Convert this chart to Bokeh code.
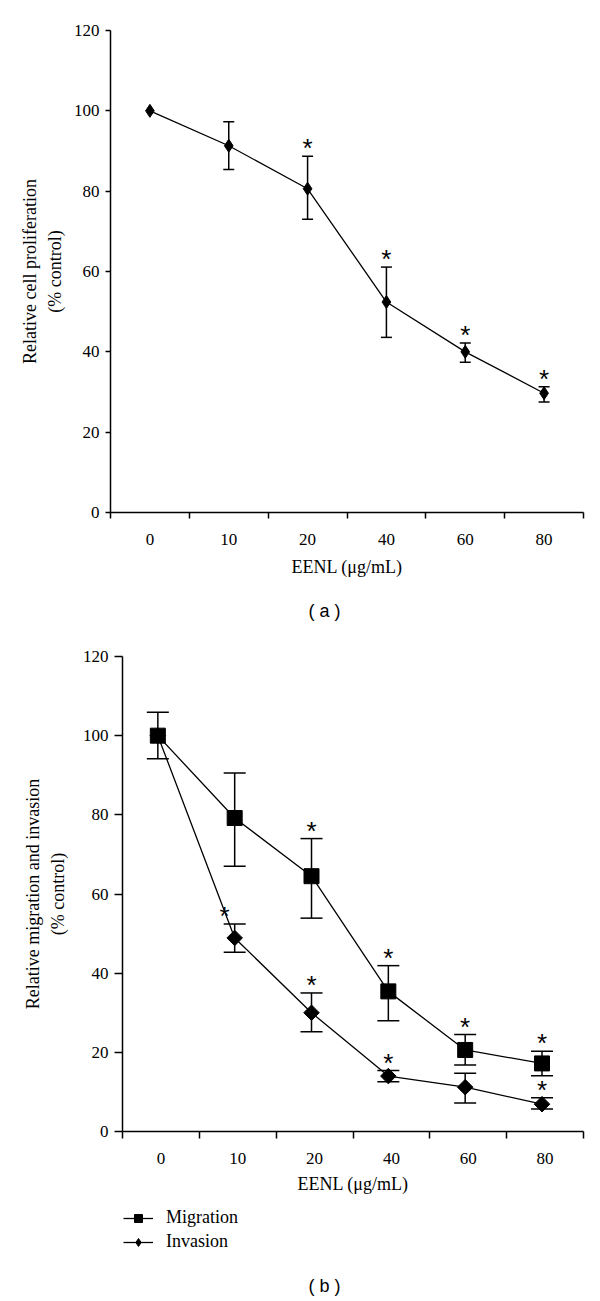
import math
from bokeh.plotting import figure
from bokeh.models import (ColumnDataSource, Range1d, LinearAxis, FixedTicker,
                          Whisker, TeeHead, Legend, LegendItem)
from bokeh.layouts import column
from bokeh.core.properties import value
from bokeh.embed import file_html
from bokeh.resources import INLINE

# ---------------- data ----------------
doses = ["0", "10", "20", "40", "60", "80"]
y_ticks = [0, 20, 40, 60, 80, 100, 120]

prolif_mean = [100, 91.3, 80.6, 52.4, 40.0, 29.7]
prolif_upper = [100, 97.3, 88.7, 61.1, 42.2, 31.3]
prolif_lower = [100, 85.4, 73.0, 43.6, 37.4, 27.5]
prolif_sig = [False, False, True, True, True, True]

migr_mean = [100, 79.2, 64.5, 35.4, 20.6, 17.2]
migr_upper = [105.9, 90.6, 74.0, 41.9, 24.5, 20.3]
migr_lower = [94.2, 67.0, 53.9, 28.0, 16.8, 14.1]
migr_sig = [False, False, True, True, True, True]

inv_mean = [100, 48.9, 30.0, 14.0, 11.2, 6.9]
inv_upper = [100, 52.4, 35.0, 15.4, 14.7, 8.5]
inv_lower = [100, 45.3, 25.2, 12.6, 7.2, 5.7]
inv_sig = [False, True, True, True, False, True]

series_names = ["Migration", "Invasion"]
panel_tags = ["( a )", "( b )"]

SERIF = "Liberation Serif"
n = len(doses)
centers = [i + 0.5 for i in range(n)]
bounds = list(range(n + 1))
W = 600


def base_fig(height, left, top, bottom, ylabel, ytick_out, ylabel_standoff,
             xlabel_std, xlabel_axis_std, xtick_out):
    p = figure(width=W, height=height, x_range=Range1d(0, n),
               y_range=Range1d(0, 120), x_axis_type=None, y_axis_type=None,
               output_backend="svg", toolbar_location=None,
               min_border_left=left, min_border_right=17,
               min_border_top=top, min_border_bottom=bottom)
    p.frame_align = False
    p.outline_line_color = None

    xa = LinearAxis(ticker=FixedTicker(ticks=centers, minor_ticks=bounds),
                    major_label_overrides={c: d for c, d in zip(centers, doses)})
    xa.axis_label = "EENL (μg/mL)"
    xa.major_tick_out = 0
    xa.major_tick_in = 0
    xa.minor_tick_out = xtick_out
    xa.minor_tick_in = 0
    xa.minor_tick_line_width = 1.5
    xa.axis_line_width = 1.5
    xa.major_label_standoff = xlabel_std
    xa.axis_label_standoff = xlabel_axis_std
    xa.major_label_text_font = SERIF
    xa.major_label_text_font_size = "17px"
    xa.axis_label_text_font = SERIF
    xa.axis_label_text_font_size = "18px"
    xa.axis_label_text_font_style = "normal"
    xa.major_label_text_color = "black"
    xa.axis_label_text_color = "black"
    p.add_layout(xa, "below")

    ya = LinearAxis(ticker=FixedTicker(ticks=y_ticks, minor_ticks=[]))
    ya.axis_label = ylabel
    ya.major_tick_out = ytick_out
    ya.major_tick_in = 0
    ya.minor_tick_out = 0
    ya.minor_tick_in = 0
    ya.major_tick_line_width = 1.5
    ya.axis_line_width = 1.5
    ya.major_label_standoff = 6
    ya.axis_label_standoff = ylabel_standoff
    ya.major_label_text_font = SERIF
    ya.major_label_text_font_size = "17px"
    ya.axis_label_text_font = SERIF
    ya.axis_label_text_font_size = "18px"
    ya.axis_label_text_font_style = "normal"
    ya.axis_label_text_line_height = 1.25
    ya.major_label_text_color = "black"
    ya.axis_label_text_color = "black"
    p.add_layout(ya, "left")
    return p


def add_series(p, xs, mean, upper, lower, sig, marker, size, angle, cap,
               star_offsets=None):
    src = ColumnDataSource(dict(x=xs, y=mean))
    ln = p.line("x", "y", source=src, line_color="black", line_width=1.3)
    keep = [u != l for u, l in zip(upper, lower)]
    esrc = ColumnDataSource(dict(
        x=[x for x, k in zip(xs, keep) if k],
        upper=[u for u, k in zip(upper, keep) if k],
        lower=[l for l, k in zip(lower, keep) if k]))
    w = Whisker(source=esrc, base="x", upper="upper", lower="lower",
                dimension="height", line_color="black", line_width=1.5,
                upper_head=TeeHead(size=cap, line_width=1.5, line_color="black"),
                lower_head=TeeHead(size=cap, line_width=1.5, line_color="black"))
    p.add_layout(w)
    sc = p.scatter("x", "y", source=src, marker=marker, size=size, angle=angle,
                   fill_color="black", line_color="black", line_width=1)
    offs = star_offsets or [0] * len(xs)
    ssrc = ColumnDataSource(dict(
        x=[x for x, s in zip(xs, sig) if s],
        y=[u for u, s in zip(upper, sig) if s],
        xo=[o for o, s in zip(offs, sig) if s],
        t=["*" for s in sig if s]))
    p.text("x", "y", text="t", source=ssrc, x_offset="xo", y_offset=-8,
           text_align="center", text_baseline="middle",
           text_font=value("Liberation Sans"), text_font_size="26px",
           text_color="black")
    return ln, sc


def caption_fig(height):
    f = figure(width=W, height=height, x_range=Range1d(0, W),
               y_range=Range1d(0, height), x_axis_type=None, y_axis_type=None,
               output_backend="svg", toolbar_location=None, min_border=0)
    f.frame_align = False
    f.outline_line_color = None
    return f


def add_tag(f, tag, x, y):
    f.text(x=[x], y=[y], text=[tag], text_align="center", text_baseline="middle",
           text_font=value("Liberation Sans"), text_font_size="18px",
           text_color="black")


# ---------------- panel (a) ----------------
pa = base_fig(590, 110, 30, 78,
              "Relative cell proliferation\n(% control)", 5, 6, 15, 9, 6)
add_series(pa, centers, prolif_mean, prolif_upper, prolif_lower, prolif_sig,
           "diamond", 13, 0, 11)

ca = caption_fig(40)
add_tag(ca, panel_tags[0], 324, 20)

# ---------------- panel (b) ----------------
pb = base_fig(570, 122, 26, 69,
              "Relative migration and invasion\n(% control)", 8, 12, 14, 7, 7)
xb = [c - 0.04 for c in centers]
add_series(pb, xb, migr_mean, migr_upper, migr_lower, migr_sig,
           "square", 15, 0, 22)
add_series(pb, xb, inv_mean, inv_upper, inv_lower, inv_sig,
           "square", 11, math.pi / 4, 22, star_offsets=[0, -10, 0, 0, 0, 0])

# legend swatches: a single hidden point each (outside the visible range)
cb = caption_fig(101)
hidden = dict(x=[-50], y=[-50])
lm = cb.line("x", "y", source=ColumnDataSource(hidden), line_color="black", line_width=1.3)
sm = cb.scatter("x", "y", source=ColumnDataSource(hidden), marker="square",
                fill_color="black", line_color="black")
li = cb.line("x", "y", source=ColumnDataSource(hidden), line_color="black", line_width=1.3)
si = cb.scatter("x", "y", source=ColumnDataSource(hidden), marker="diamond",
                fill_color="black", line_color="black")
legend = Legend(items=[LegendItem(label=series_names[0], renderers=[lm, sm]),
                       LegendItem(label=series_names[1], renderers=[li, si])],
                location=(123, 49), orientation="vertical",
                border_line_color=None, background_fill_alpha=0,
                padding=0, margin=0, spacing=3, glyph_width=30,
                glyph_height=20, label_height=20, label_standoff=13,
                label_text_font=SERIF, label_text_font_size="18px",
                label_text_color="black")
cb.add_layout(legend)
add_tag(cb, panel_tags[1], 324, 16)

layout = column(pa, ca, pb, cb, spacing=0)
open("out.html", "w").write(file_html(layout, INLINE))
